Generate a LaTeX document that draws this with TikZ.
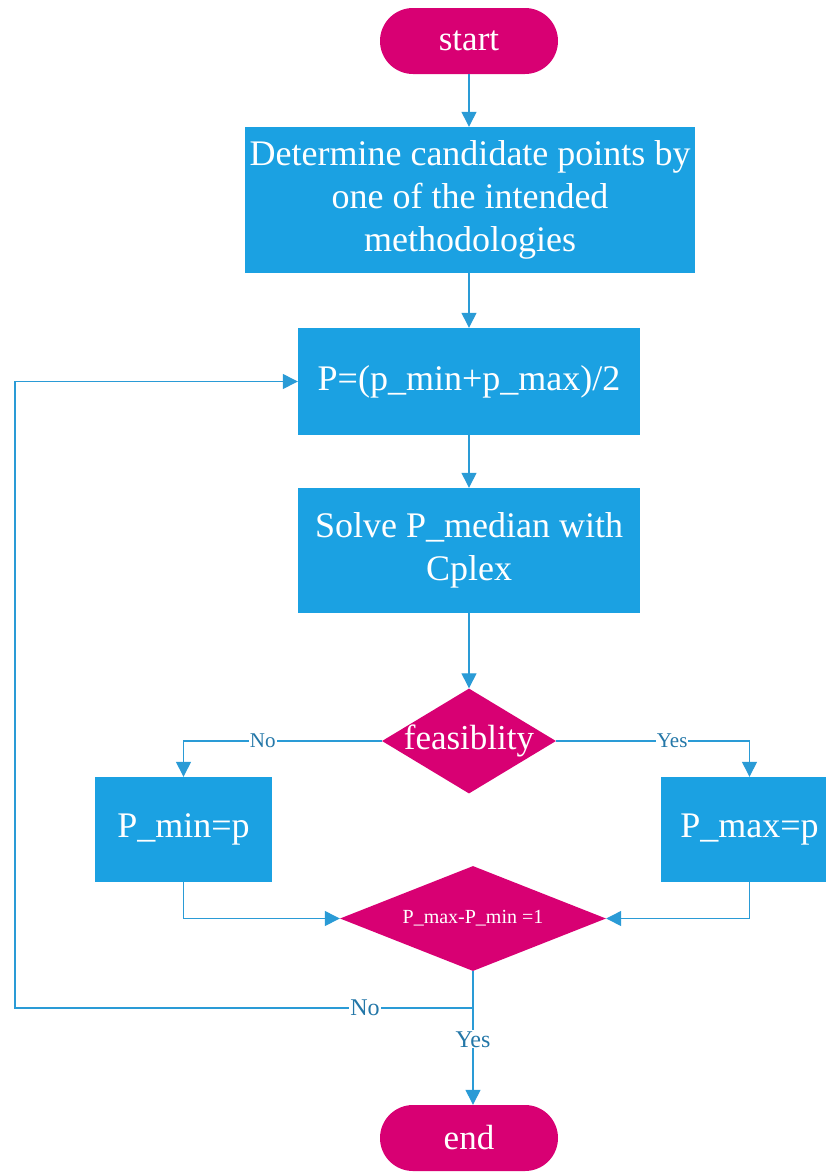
\documentclass[tikz,border=0pt]{standalone}
\usepackage{fontspec}
\setmainfont{Liberation Serif}
\usetikzlibrary{arrows.meta,shapes.geometric}
\definecolor{mag}{HTML}{D80073}
\definecolor{bl}{HTML}{1BA1E2}
\definecolor{ln}{HTML}{2A9BD6}
\definecolor{lab}{HTML}{2477A8}
\begin{document}
\begin{tikzpicture}[x=1pt,y=-1pt,
 proc/.style={fill=bl, draw=none, text=white, font=\fontsize{36}{43}\selectfont, align=center, inner sep=0pt},
 term/.style={fill=mag, rounded corners=33pt, minimum width=178pt, minimum height=66pt, inner sep=0pt, text=white, font=\fontsize{35}{40}\selectfont},
 dec/.style={diamond, fill=mag, inner sep=0pt},
 dectext/.style={text=white, inner sep=0pt},
 conn/.style={draw=ln, line width=1.3pt, -{Triangle[length=15pt,width=15pt]}},
 lbl/.style={fill=white, text=lab, inner sep=1pt},
 lbls/.style={lbl, font=\fontsize{21}{24}\selectfont},
 lblb/.style={lbl, font=\fontsize{24}{28}\selectfont}]
\useasboundingbox (0,0) rectangle (825,1173);
\node[term] (start) at (469,41) {start};
\node[proc, minimum width=450pt, minimum height=146pt] (box1) at (470,200) {Determine candidate points by\\one of the intended\\methodologies};
\node[proc, minimum width=342pt, minimum height=107pt] (box2) at (469,381.5) {P=(p\_min+p\_max)/2};
\node[proc, minimum width=342pt, minimum height=125pt] (box3) at (469,550.5) {Solve P\_median with\\Cplex};
\node[dec, minimum width=174pt, minimum height=105pt] (d1) at (469,741) {};
\node[dectext, font=\fontsize{35}{40}\selectfont] (d1t) at (d1) {feasiblity};
\node[proc, minimum width=177pt, minimum height=105pt] (pmin) at (183.5,829.5) {P\_min=p};
\node[proc, minimum width=177pt, minimum height=105pt] (pmax) at (749.5,829.5) {P\_max=p};
\node[dec, minimum width=266pt, minimum height=105pt] (d2) at (473,918.5) {};
\node[dectext, font=\fontsize{20}{24}\selectfont] (d2t) at (d2) {P\_max-P\_min =1};
\node[term] (end) at (469,1138) {end};
\coordinate (c1) at (473,1008);
\coordinate (c2) at (15,1008);
\draw[conn] (start.south) -- (start.south |- box1.north);
\draw[conn] (box1.south -| box2.north) -- (box2.north);
\draw[conn] (box2.south) -- (box3.north);
\draw[conn] (box3.south) -- (d1.north);
\draw[conn] (d1.west) -| node[lbls, pos=0.3]{No} (pmin.north);
\draw[conn] (d1.east) -| node[lbls, pos=0.3]{Yes} (pmax.north);
\draw[conn] (pmin.south) |- (d2.west);
\draw[conn] (pmax.south) |- (d2.east);
\draw[conn] (d2.south) -- (c1) -- node[lblb, pos=0.236]{No} (c2) |- (box2.west);
\draw[conn] (d2.south) -- node[lblb, pos=0.51]{Yes} (d2.south |- end.north);
\end{tikzpicture}
\end{document}
